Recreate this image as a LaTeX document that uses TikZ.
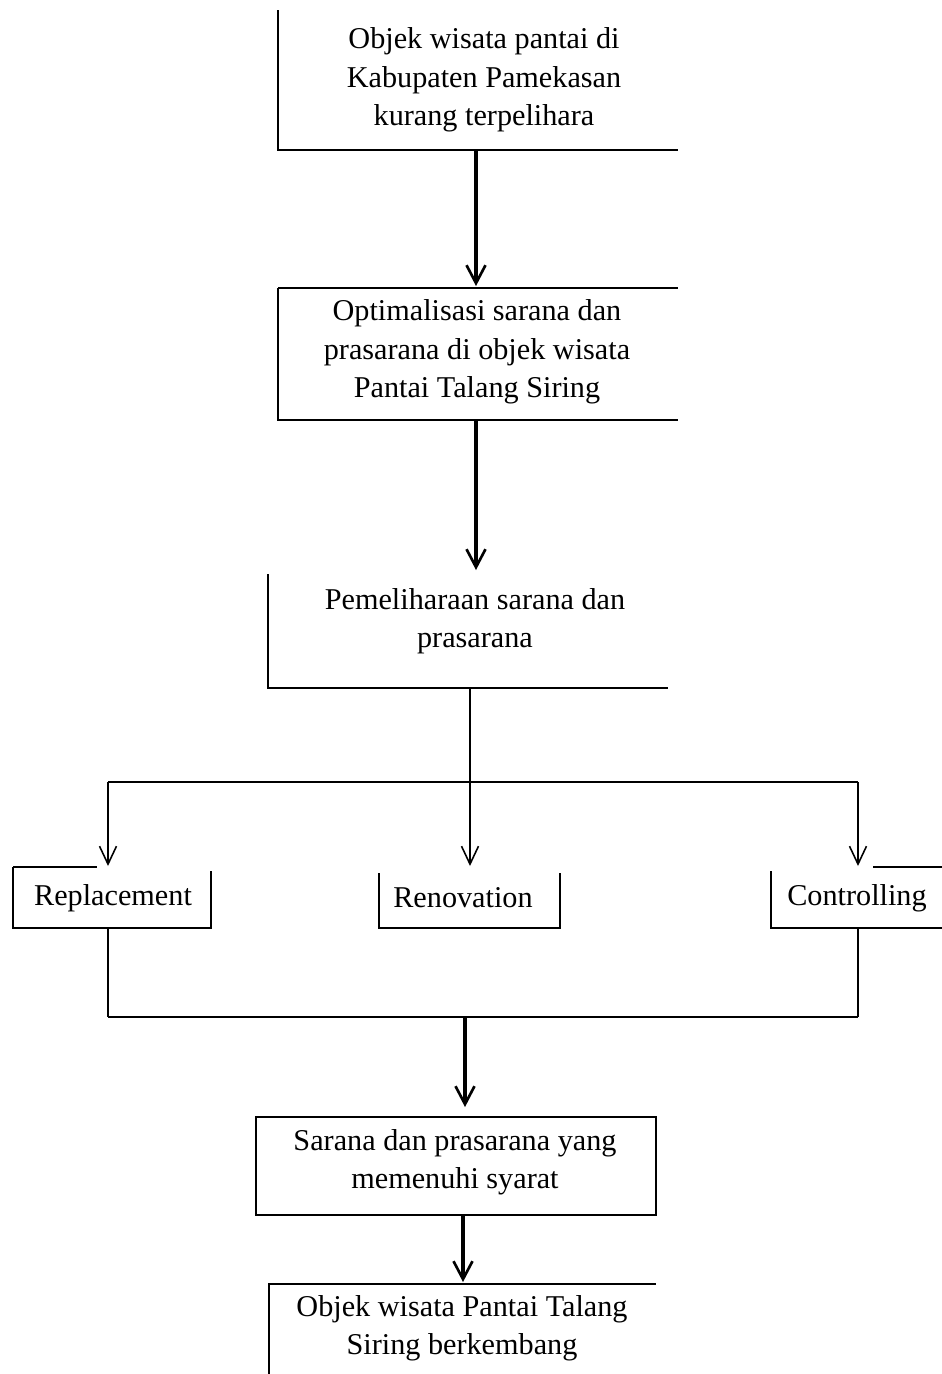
\documentclass[tikz,border=0pt]{standalone}
\usepackage{fontspec}
\setmainfont{Liberation Serif}
\usetikzlibrary{arrows.meta}

\begin{document}
\begin{tikzpicture}[x=0.02cm,y=-0.02cm,
  txt/.style={align=center,inner sep=0pt,font=\fontsize{17.2}{21.8}\selectfont},
  frame/.style={line width=0.6pt},
  mainarrow/.style={line width=2pt,-{Straight Barb[length=0.36cm,width=0.38cm,line width=1.5pt]}},
  subarrow/.style={line width=0.9pt,-{Straight Barb[length=0.36cm,width=0.34cm]}}]
\useasboundingbox (0,0) rectangle (942,1374);

% texts
\node[txt] (objek) at (484,80) {Objek wisata pantai di\\Kabupaten Pamekasan\\kurang terpelihara};
\node[txt] (optimal) at (477,352) {Optimalisasi sarana dan\\prasarana di objek wisata\\Pantai Talang Siring};
\node[txt] (pelihara) at (475,621) {Pemeliharaan sarana dan\\prasarana};
\node[txt] (replace) at (113,898) {Replacement};
\node[txt] (renov) at (463,898) {Renovation};
\node[txt] (control) at (857,898) {Controlling};
\node[txt] (syarat) at (455,1162) {Sarana dan prasarana yang\\memenuhi syarat};
\node[txt] (kembang) at (462,1328) {Objek wisata Pantai Talang\\Siring berkembang};

% box edges
\draw[frame] (278,10) -- (278,150) -- (678,150);
\draw[frame] (278,288) -- (678,288);
\draw[frame] (278,288) -- (278,420) -- (678,420);
\draw[frame] (268,574) -- (268,688) -- (668,688);
\draw[frame] (13,867) -- (97,867);
\draw[frame] (13,867) -- (13,928) -- (211,928) -- (211,871);
\draw[frame] (379,873) -- (379,928) -- (560,928) -- (560,873);
\draw[frame] (873,867) -- (942,867);
\draw[frame] (771,871) -- (771,928) -- (942,928);
\draw[frame] (256,1117) rectangle (656,1215);
\draw[frame] (268,1284) -- (656,1284);
\draw[frame] (269,1284) -- (269,1374);

% connector points
\coordinate (a1) at (476,150);
\coordinate (a2) at (476,286);
\coordinate (b1) at (476,420);
\coordinate (b2) at (476,570);
\coordinate (c1) at (470,688);
\coordinate (fork) at (470,782);
\coordinate (forkL) at (108,782);
\coordinate (forkR) at (858,782);
\coordinate (inL) at (108,866);
\coordinate (inM) at (470,866);
\coordinate (inR) at (858,866);
\coordinate (outL) at (108,928);
\coordinate (outR) at (858,928);
\coordinate (joinL) at (108,1017);
\coordinate (joinR) at (858,1017);
\coordinate (join) at (465,1017);
\coordinate (d2) at (465,1107);
\coordinate (e1) at (463,1215);
\coordinate (e2) at (463,1282);

\draw[mainarrow] (a1) -- (a2);
\draw[mainarrow] (b1) -- (b2);
\draw[line width=1pt] (c1) -- (fork);
\draw[line width=1.3pt] (forkL) -- (forkR);
\draw[subarrow] (forkL) -- (inL);
\draw[subarrow] (fork) -- (inM);
\draw[subarrow] (forkR) -- (inR);
\draw[line width=0.7pt] (outL) -- (joinL);
\draw[line width=0.7pt] (outR) -- (joinR);
\draw[line width=1.4pt] (joinL) -- (joinR);
\draw[mainarrow] (join) -- (d2);
\draw[mainarrow] (e1) -- (e2);

\end{tikzpicture}
\end{document}
